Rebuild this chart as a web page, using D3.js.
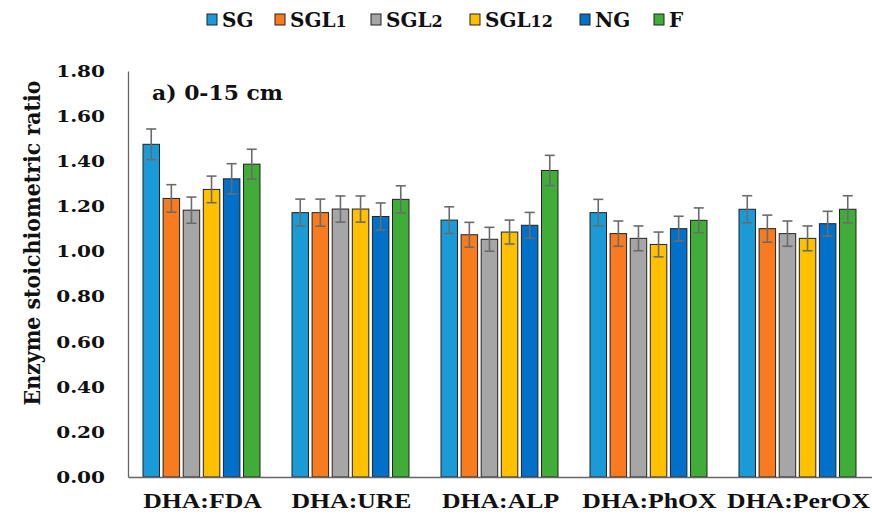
<!DOCTYPE html>
<html><head><meta charset="utf-8">
<script src="https://cdn.jsdelivr.net/npm/d3@7"></script>
<style>body{margin:0;background:#fff}svg{display:block}</style>
</head><body>
<script>
const categories = ["DHA:FDA","DHA:URE","DHA:ALP","DHA:PhOX","DHA:PerOX"];
const seriesNames = ["SG","SGL1","SGL2","SGL12","NG","F"];
const seriesLabels = [["SG",""],["SGL","1"],["SGL","2"],["SGL","12"],["NG",""],["F",""]];
const colors = ["#1A9BD7","#F97B20","#A6A6A6","#FFC000","#0070C8","#40AD38"];
const SG    = [1.475,1.172,1.139,1.172,1.187];
const SGL1  = [1.235,1.172,1.074,1.079,1.101];
const SGL2  = [1.183,1.188,1.054,1.058,1.079];
const SGL12 = [1.275,1.188,1.086,1.031,1.058];
const NG    = [1.322,1.155,1.116,1.101,1.123];
const F     = [1.387,1.231,1.359,1.138,1.187];
const errSG    = [0.068,0.060,0.059,0.059,0.060];
const errSGL1  = [0.061,0.060,0.055,0.056,0.060];
const errSGL2  = [0.058,0.058,0.053,0.055,0.056];
const errSGL12 = [0.059,0.058,0.053,0.055,0.055];
const errNG    = [0.067,0.060,0.057,0.055,0.055];
const errF     = [0.066,0.060,0.067,0.055,0.060];
const yTicks = [0,0.2,0.4,0.6,0.8,1.0,1.2,1.4,1.6,1.8];

const values = [SG,SGL1,SGL2,SGL12,NG,F];
const errs = [errSG,errSGL1,errSGL2,errSGL12,errNG,errF];

const W=872,H=515;
const svg=d3.select("body").append("svg").attr("width",W).attr("height",H);
const x0=d3.scaleBand().domain(categories).range([128,873]).padding(0);
const x1=d3.scaleBand().domain(seriesNames).range([15,132]).paddingInner(0.18).paddingOuter(0);
const y=d3.scaleLinear().domain([0,1.8]).range([477,71]);

const serif='"DejaVu Serif", "Liberation Serif", serif';

// bars
const groups=svg.append("g").selectAll("g").data(categories).join("g")
  .attr("transform",d=>`translate(${x0(d)},0)`);
groups.each(function(cat,ci){
  const g=d3.select(this);
  seriesNames.forEach((s,si)=>{
    const v=values[si][ci], e=errs[si][ci];
    const bx=x1(s), bw=x1.bandwidth();
    g.append("rect").attr("x",bx).attr("y",y(v)).attr("width",bw).attr("height",y(0)-y(v))
      .attr("fill",colors[si]).attr("stroke","#222").attr("stroke-width",1);
    const cx=bx+bw/2;
    const eg=g.append("g").attr("stroke","#6b6b6b").attr("stroke-width",1.6);
    eg.append("line").attr("x1",cx).attr("x2",cx).attr("y1",y(v-e)).attr("y2",y(v+e));
    eg.append("line").attr("x1",cx-5).attr("x2",cx+5).attr("y1",y(v+e)).attr("y2",y(v+e));
    eg.append("line").attr("x1",cx-5).attr("x2",cx+5).attr("y1",y(v-e)).attr("y2",y(v-e));
  });
});

// y axis
const yAxis=svg.append("g").attr("transform","translate(128,0)")
  .call(d3.axisLeft(y).tickValues(yTicks).tickFormat(d3.format(".2f")).tickSize(0).tickPadding(22));
yAxis.select(".domain").attr("stroke","#666").attr("stroke-width",1.3);
yAxis.selectAll("text").attr("font-family",serif).attr("font-weight","bold").attr("font-size",17).attr("fill","#111")
  .attr("x",0).attr("transform","translate(-23,0) scale(1.18,1)");

// x axis
const xAxis=svg.append("g").attr("transform","translate(0,477)")
  .call(d3.axisBottom(x0).tickSize(0).tickPadding(15));
xAxis.select(".domain").attr("stroke","#666").attr("stroke-width",1.6);
xAxis.selectAll("text").attr("font-family",'"Liberation Serif", serif').attr("font-weight","bold").attr("font-size",22).attr("fill","#111")
  .attr("transform","scale(1.17,1)");

// y label
svg.append("text").attr("transform","translate(40,243) rotate(-90)").attr("text-anchor","middle")
  .attr("font-family",serif).attr("font-weight","bold").attr("font-size",23).attr("fill","#111")
  .attr("textLength",325).attr("lengthAdjust","spacingAndGlyphs")
  .text("Enzyme stoichiometric ratio");

// title
svg.append("text").attr("x",152).attr("y",100).attr("font-family",serif).attr("font-weight","bold")
  .attr("font-size",20).attr("fill","#111").attr("textLength",131).attr("lengthAdjust","spacingAndGlyphs")
  .text("a) 0-15 cm");

// legend
const legX=[207,275,371,470,580,654];
const leg=svg.append("g");
seriesNames.forEach((s,i)=>{
  leg.append("rect").attr("x",legX[i]).attr("y",14).attr("width",10).attr("height",11)
    .attr("fill",colors[i]).attr("stroke","#222").attr("stroke-width",1);
  const t=leg.append("text").attr("x",legX[i]+15).attr("y",27).attr("font-family",serif)
    .attr("font-weight","bold").attr("font-size",20).attr("fill","#111");
  t.append("tspan").text(seriesLabels[i][0]);
  if(seriesLabels[i][1]) t.append("tspan").attr("font-size",16).text(seriesLabels[i][1]);
});
</script>
</body></html>
